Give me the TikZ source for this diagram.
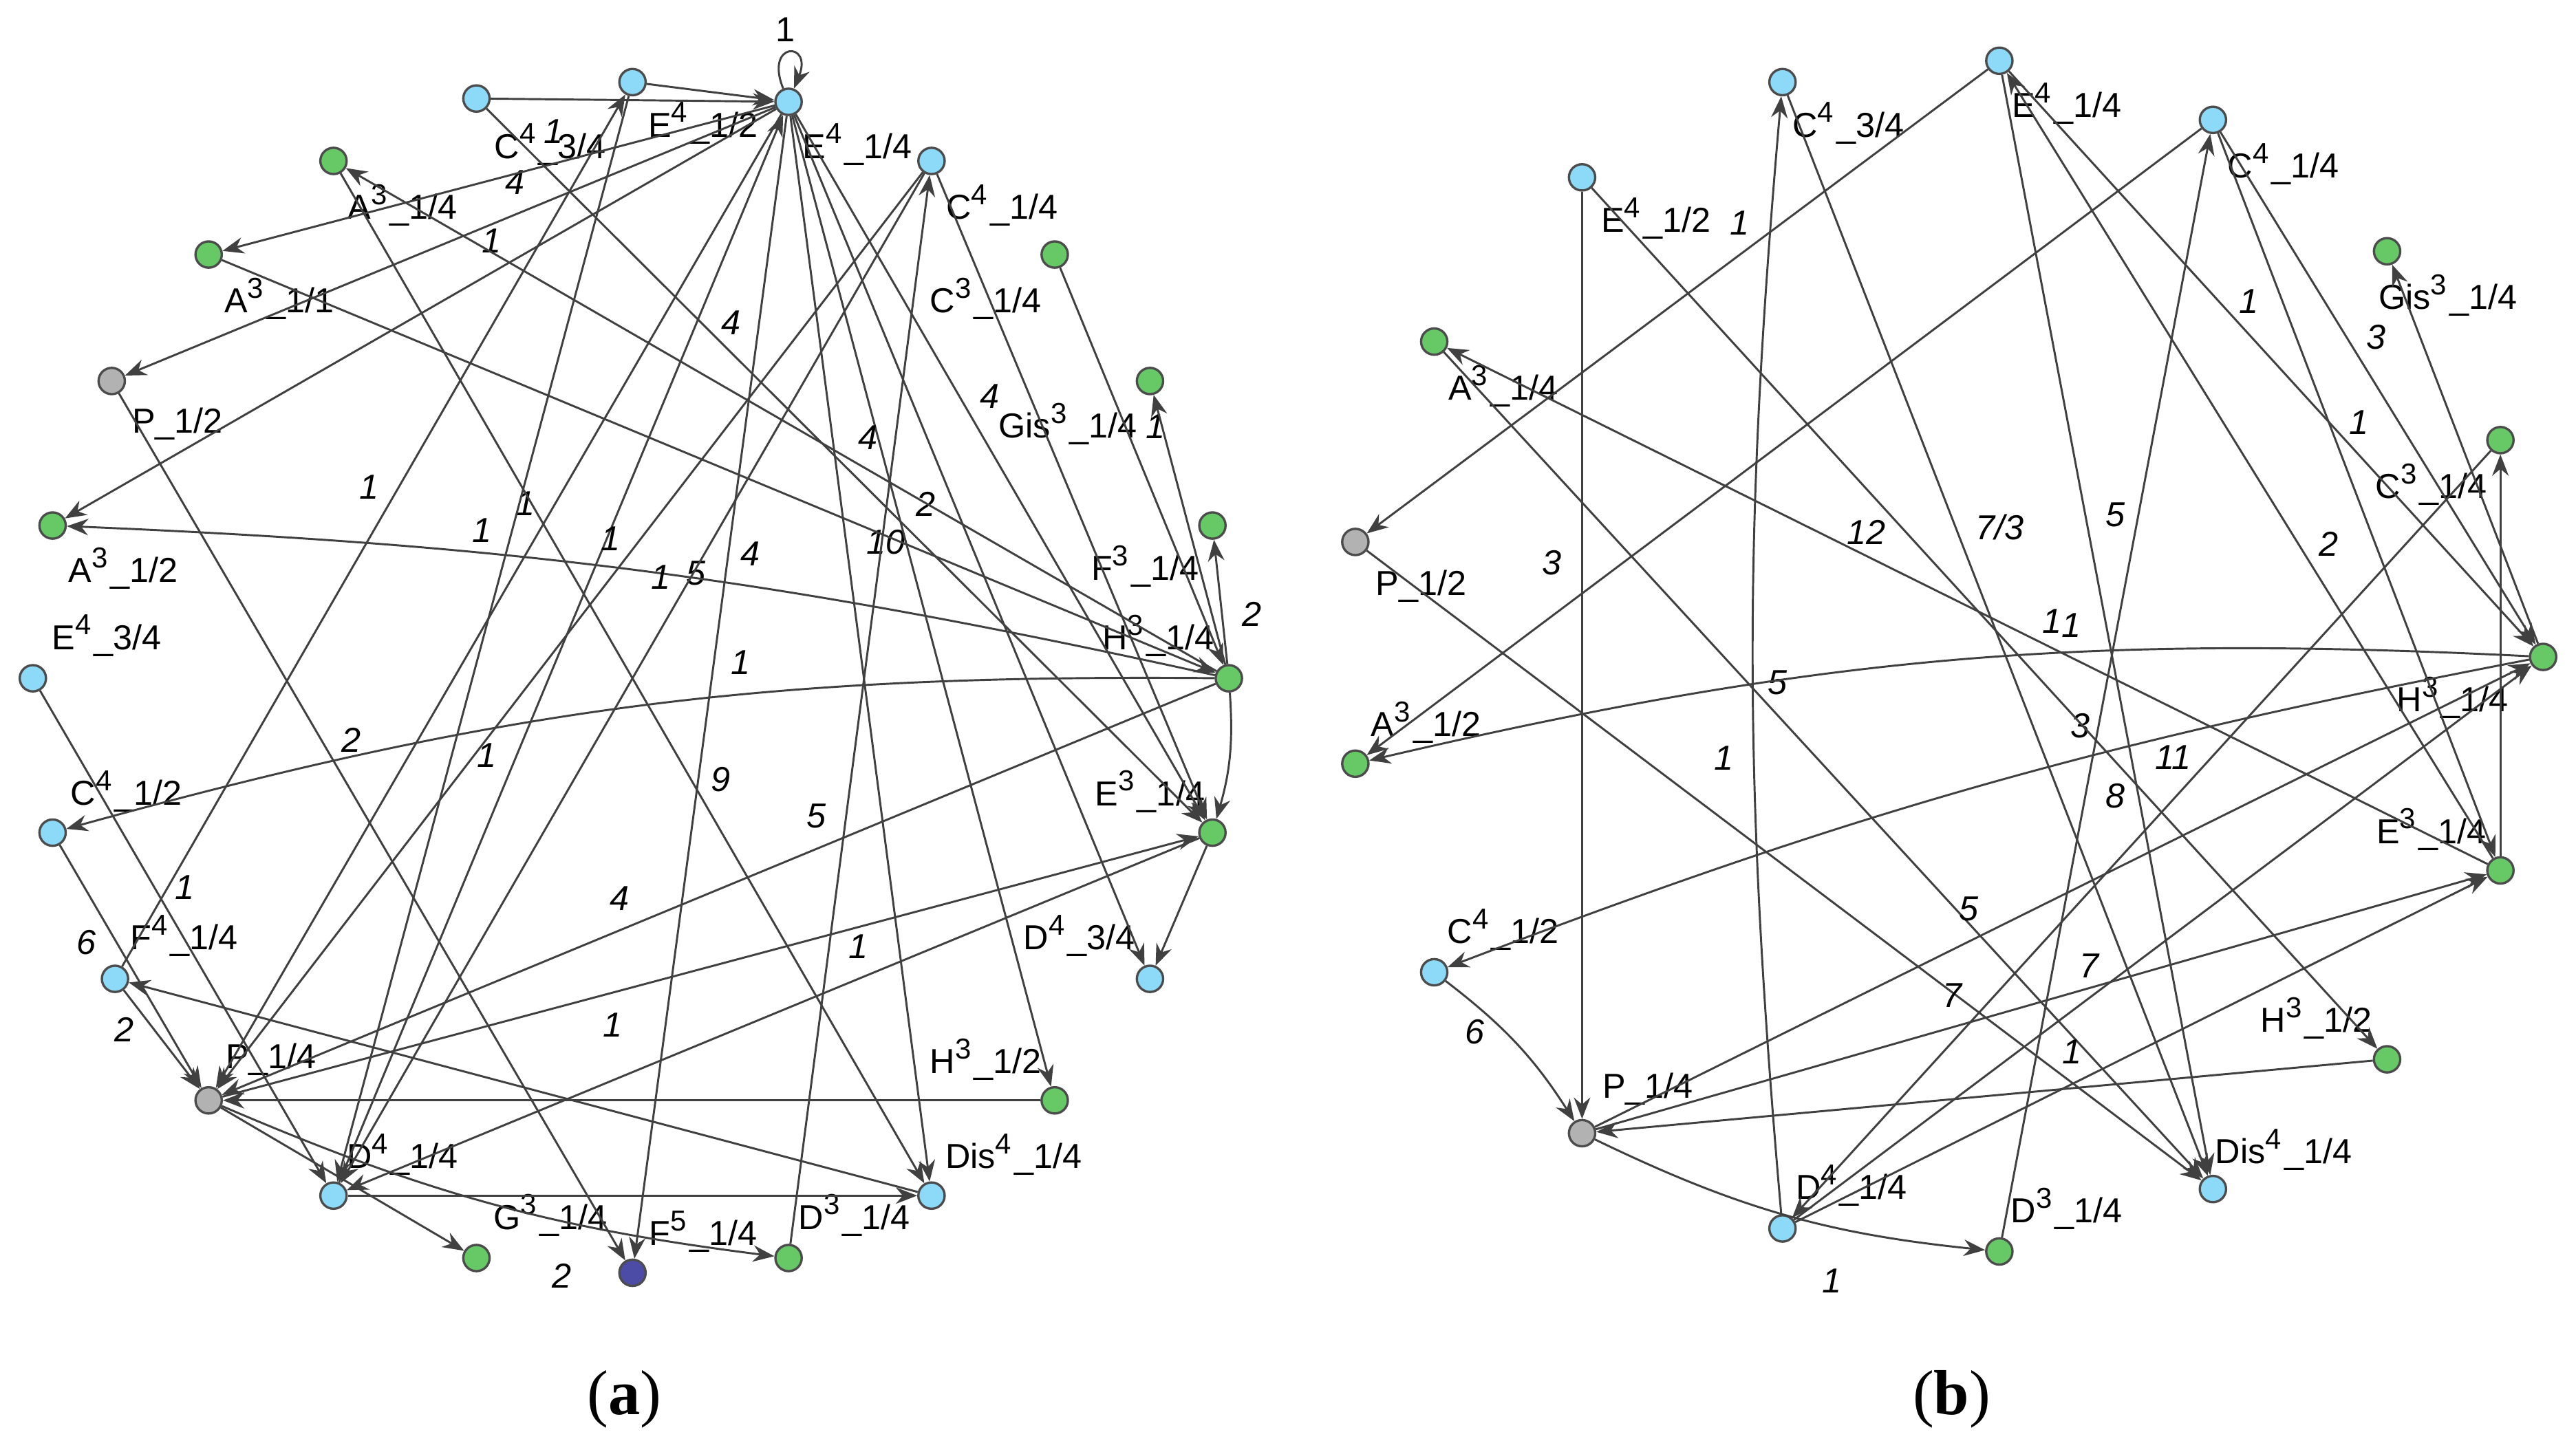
\documentclass[tikz,border=0pt]{standalone}
\usepackage{fontspec}
\setmainfont{Liberation Sans}
\newfontfamily\capfont{Liberation Serif}
\usetikzlibrary{arrows.meta}
\newcommand{\nm}[3]{#1\textsuperscript{#2}\_#3}
\begin{document}
\begin{tikzpicture}[x=0.01cm, y=-0.01cm, font=\fontsize{6}{7}\selectfont,
  v/.style={draw=gray!60!black, circle, inner sep=0pt, minimum size=1.6mm},
  vc/.style={v, fill=cyan!45},
  vg/.style={v, fill=green!65!black!60},
  vp/.style={v, fill=gray!60},
  vb/.style={v, fill=blue!50!black!70},
  e/.style={-{Stealth[length=1.3mm,width=1mm]}, line width=0.35pt, draw=black!75},
  el/.style={font=\fontsize{6}{7}\selectfont\itshape, pos=0.4}]

  \useasboundingbox (0,0) rectangle (1568,877);

  % ---------- (a) vertices
  \node[vc] (aE41) at (480,62) {};
  \node[vc] (aE42) at (385,50) {};
  \node[vc] (aC43) at (290,60) {};
  \node[vg] (aA31) at (203,98) {};
  \node[vg] (aA311) at (127,155) {};
  \node[vp] (aP2) at (68,232) {};
  \node[vg] (aA32) at (32,320) {};
  \node[vc] (aE43) at (20,413) {};
  \node[vc] (aC42) at (32,507) {};
  \node[vc] (aF41) at (70,596) {};
  \node[vp] (aP1) at (127,670) {};
  \node[vc] (aD41) at (203,728) {};
  \node[vg] (aG31) at (290,766) {};
  \node[vb] (aF51) at (385,775) {};
  \node[vg] (aD31) at (480,766) {};
  \node[vc] (aDis) at (567,728) {};
  \node[vg] (aH32) at (642,670) {};
  \node[vc] (aD43) at (700,596) {};
  \node[vg] (aE31) at (738,507) {};
  \node[vg] (aH31) at (748,413) {};
  \node[vg] (aF31) at (738,320) {};
  \node[vg] (aGis) at (700,232) {};
  \node[vg] (aC31) at (642,155) {};
  \node[vc] (aC41) at (567,98) {};

  % (a) labels
  \node (laE41) at (522,88) {\nm{E}{4}{1/4}};
  \node (laE42) at (428,75) {\nm{E}{4}{1/2}};
  \node (laC43) at (335,88) {\nm{C}{4}{3/4}};
  \node (laA31) at (245,125) {\nm{A}{3}{1/4}};
  \node (laA311) at (170,182) {\nm{A}{3}{1/1}};
  \node (laP2) at (108,258) {P\_1/2};
  \node (laA32) at (75,346) {\nm{A}{3}{1/2}};
  \node (laE43) at (65,387) {\nm{E}{4}{3/4}};
  \node (laC42) at (77,482) {\nm{C}{4}{1/2}};
  \node (laF41) at (112,570) {\nm{F}{4}{1/4}};
  \node (laP1) at (165,645) {P\_1/4};
  \node (laD41) at (245,703) {\nm{D}{4}{1/4}};
  \node (laG31) at (335,740) {\nm{G}{3}{1/4}};
  \node (laF51) at (428,750) {\nm{F}{5}{1/4}};
  \node (laD31) at (520,740) {\nm{D}{3}{1/4}};
  \node (laDis) at (617,703) {\nm{Dis}{4}{1/4}};
  \node (laH32) at (600,645) {\nm{H}{3}{1/2}};
  \node (laD43) at (657,570) {\nm{D}{4}{3/4}};
  \node (laE31) at (700,482) {\nm{E}{3}{1/4}};
  \node (laH31) at (705,387) {\nm{H}{3}{1/4}};
  \node (laF31) at (697,345) {\nm{F}{3}{1/4}};
  \node (laGis) at (650,258) {\nm{Gis}{3}{1/4}};
  \node (laC31) at (600,182) {\nm{C}{3}{1/4}};
  \node (laC41) at (610,125) {\nm{C}{4}{1/4}};

  % (a) edges
  \draw[e] (aE41) .. controls (465,25) and (495,25) .. (aE41);
  \node (lloop) at (478,18) {1};
  \draw[e] (aE41) -- node[el, above] {4} (aP2);
  \draw[e] (aE41) -- node[el, above] {1} (aA311);
  \draw[e] (aE41) -- node[el, above] {1} (aA32);
  \draw[e] (aC43) -- (aE41);
  \draw[e] (aE42) -- (aE41);
  \draw[e] (aD41) -- node[el, left] {1} (aE41);
  \draw[e] (aE41) -- node[el, left] {5} (aF51);
  \draw[e] (aE41) -- node[el, right] {10} (aDis);
  \draw[e] (aE41) -- node[el, right] {4} (aE31);
  \draw[e] (aE41) -- node[el, right] {2} (aH32);
  \draw[e] (aE41) -- (aD43);
  \draw[e] (aE41) -- node[el, left] {1} (aP1);
  \draw[e] (aA31) -- node[el, right, pos=0.6] {9} (aDis);
  \draw[e] (aH31) -- node[el, above] {4} (aA31);
  \draw[e] (aH31) to[bend right=5] node[el, above] {4} (aA32);
  \draw[e] (aH31) to[bend right=8] node[el, above] {1} (aC42);
  \draw[e] (aH31) -- node[el, above, pos=0.6] {4} (aP1);
  \draw[e] (aP1) -- node[el, below] {1} (aE31);
  \draw[e] (aF41) -- node[el, left, pos=0.55] {1} (aE42);
  \draw[e] (aE43) -- node[el, right] {1} (aD41);
  \draw[e] (aC42) -- node[el, left] {6} (aP1);
  \draw[e] (aF41) -- node[el, left] {2} (aP1);
  \draw[e] (aP1) to[bend right=8] (aD31);
  \draw[e] (aDis) -- (aF41);
  \draw[e] (aP1) -- (aG31);
  \draw[e] (aD41) -- (aDis);
  \draw[e] (aP2) -- node[el, right] {2} (aF51);
  \draw[e] (aC41) -- node[el, left] {1} (aD41);
  \draw[e] (aC41) -- node[el, left] {1} (aP1);
  \draw[e] (aC41) -- (aE31);
  \draw[e] (aD31) -- node[el, left] {5} (aC41);
  \draw[e] (aC31) -- node[el, right] {1} (aH31);
  \draw[e] (aH31) -- node[el, right] {2} (aF31);
  \draw[e] (aH31) -- (aGis);
  \draw[e] (aH31) to[bend left=10] (aE31);
  \draw[e] (aE31) -- (aD43);
  \draw[e] (aC43) -- node[el, right, pos=0.3] {4} (aE31);
  \draw[e] (aE42) -- node[el, left] {1} (aD41);
  \draw[e] (aH32) -- (aP1);
  \draw[e] (aE31) -- node[el, above] {1} (aD41);
  \draw[e] (aA311) -- (aH31);

  % ---------- (b) vertices
  \node[vc] (bC43) at (1085,50) {};
  \node[vc] (bE41) at (1217,37) {};
  \node[vc] (bC41) at (1347,73) {};
  \node[vc] (bE42) at (963,108) {};
  \node[vg] (bGis) at (1453,153) {};
  \node[vg] (bA31) at (873,208) {};
  \node[vg] (bC31) at (1522,268) {};
  \node[vp] (bP2) at (825,330) {};
  \node[vg] (bH31) at (1548,400) {};
  \node[vg] (bA32) at (825,465) {};
  \node[vg] (bE31) at (1522,530) {};
  \node[vc] (bC42) at (873,592) {};
  \node[vg] (bH32) at (1453,645) {};
  \node[vp] (bP1) at (963,690) {};
  \node[vc] (bDis) at (1347,724) {};
  \node[vc] (bD41) at (1085,748) {};
  \node[vg] (bD31) at (1217,762) {};

  % (b) labels
  \node (lbC43) at (1125,75) {\nm{C}{4}{3/4}};
  \node (lbE41) at (1258,63) {\nm{E}{4}{1/4}};
  \node (lbC41) at (1390,100) {\nm{C}{4}{1/4}};
  \node (lbE42) at (1008,133) {\nm{E}{4}{1/2}};
  \node (lbGis) at (1490,180) {\nm{Gis}{3}{1/4}};
  \node (lbA31) at (915,235) {\nm{A}{3}{1/4}};
  \node (lbC31) at (1480,295) {\nm{C}{3}{1/4}};
  \node (lbP2) at (865,357) {P\_1/2};
  \node (lbH31) at (1493,425) {\nm{H}{3}{1/4}};
  \node (lbA32) at (868,440) {\nm{A}{3}{1/2}};
  \node (lbE31) at (1480,505) {\nm{E}{3}{1/4}};
  \node (lbC42) at (915,566) {\nm{C}{4}{1/2}};
  \node (lbH32) at (1410,620) {\nm{H}{3}{1/2}};
  \node (lbP1) at (1003,663) {P\_1/4};
  \node (lbDis) at (1390,700) {\nm{Dis}{4}{1/4}};
  \node (lbD41) at (1127,722) {\nm{D}{4}{1/4}};
  \node (lbD31) at (1258,736) {\nm{D}{3}{1/4}};

  % (b) edges
  \draw[e] (bE41) -- node[el, above] {1} (bP2);
  \draw[e] (bC41) -- (bA32);
  \draw[e] (bE42) -- node[el, left] {3} (bP1);
  \draw[e] (bE31) -- node[el, above] {1} (bA31);
  \draw[e] (bA31) -- node[el, right] {5} (bDis);
  \draw[e] (bC43) -- node[el, right] {7/3} (bDis);
  \draw[e] (bD41) to[bend left=5] node[el, left] {1} (bC43);
  \draw[e] (bE41) -- node[el, right] {5} (bDis);
  \draw[e] (bD31) -- node[el, right] {8} (bC41);
  \draw[e] (bH31) to[bend right=8] node[el, above] {1} (bA32);
  \draw[e] (bH31) to[bend right=5] node[el, above] {3} (bC42);
  \draw[e] (bE31) -- node[el, right] {2} (bE41);
  \draw[e] (bC41) -- node[el, right] {3} (bH31);
  \draw[e] (bC31) -- node[el, left] {11} (bD41);
  \draw[e] (bP2) -- (bDis);
  \draw[e] (bH32) -- (bP1);
  \draw[e] (bP1) to[bend right=10] (bD31);
  \draw[e] (bC42) to[bend left=10] node[el, left] {6} (bP1);
  \draw[e] (bE42) -- node[el, left] {12} (bH32);
  \draw[e] (bH31) -- (bGis);
  \draw[e] (bE31) -- (bC31);
  \draw[e] (bP1) -- node[el, above] {7} (bE31);
  \draw[e] (bP1) -- node[el, above] {5} (bH31);
  \draw[e] (bD41) -- node[el, above] {7} (bH31);
  \draw[e] (bD41) -- node[el, above] {1} (bE31);
  \draw[e] (bC41) -- node[el, right] {1} (bE31);
  \draw[e] (bE41) -- node[el, right] {1} (bH31);
  \node (lb1) at (1115,780) {\itshape 1};
  \node (la2) at (342,777) {\itshape 2};

  % captions
  \node[font=\fontsize{11}{13}\capfont] (capa) at (380,852) {(\textbf{a})};
  \node[font=\fontsize{11}{13}\capfont] (capb) at (1188,852) {(\textbf{b})};
\end{tikzpicture}
\end{document}
